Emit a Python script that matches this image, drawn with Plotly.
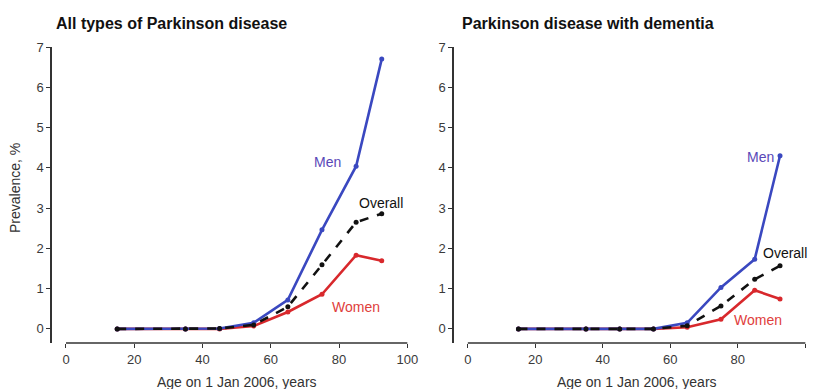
import plotly.graph_objects as go

ages = [15, 35, 45, 55, 65, 75, 85, 92.5]

all_men = [0.0, 0.0, 0.01, 0.15, 0.72, 2.46, 4.04, 6.7]
all_overall = [0.0, 0.0, 0.01, 0.1, 0.55, 1.59, 2.65, 2.86]
all_women = [0.0, 0.0, 0.0, 0.07, 0.42, 0.86, 1.83, 1.69]

dem_men = [0.0, 0.0, 0.0, 0.0, 0.15, 1.03, 1.73, 4.3]
dem_overall = [0.0, 0.0, 0.0, 0.0, 0.08, 0.57, 1.23, 1.57]
dem_women = [0.0, 0.0, 0.0, 0.0, 0.04, 0.24, 0.96, 0.74]

titles = ["All types of Parkinson disease", "Parkinson disease with dementia"]
x_title = "Age on 1 Jan 2006, years"
y_title = "Prevalence, %"
x_ticks = [0, 20, 40, 60, 80, 100]
y_ticks = [0, 1, 2, 3, 4, 5, 6, 7]

BLUE = "#3a48c0"
RED = "#d8282c"
BLACK = "#111111"
FONT = "Liberation Sans, Arial, sans-serif"

W, H = 814, 389
fig = go.Figure()

panels = [
    dict(men=all_men, overall=all_overall, women=all_women, xa="x", ya="y",
         xd=[52 / W, 408 / W], tx=54),
    dict(men=dem_men, overall=dem_overall, women=dem_women, xa="x2", ya="y2",
         xd=[454 / W, 806 / W], tx=460),
]
yd = [1 - 343 / H, 1 - 47 / H]

for p in panels:
    fig.add_trace(go.Scatter(x=ages, y=p["women"], mode="lines+markers", xaxis=p["xa"], yaxis=p["ya"],
                             line=dict(color=RED, width=2.6), marker=dict(size=5, color=RED),
                             showlegend=False))
    fig.add_trace(go.Scatter(x=ages, y=p["men"], mode="lines+markers", xaxis=p["xa"], yaxis=p["ya"],
                             line=dict(color=BLUE, width=2.6), marker=dict(size=5, color=BLUE),
                             showlegend=False))
    fig.add_trace(go.Scatter(x=ages, y=p["overall"], mode="lines+markers", xaxis=p["xa"], yaxis=p["ya"],
                             line=dict(color=BLACK, width=2.6, dash="dash"),
                             marker=dict(size=5, color=BLACK), showlegend=False))

axis_common = dict(showgrid=False, zeroline=False, ticks="outside", ticklen=4, tickwidth=1,
                   tickcolor="#333", automargin=False,
                   tickfont=dict(family=FONT, size=13, color="#3a3a3a"))

for i, p in enumerate(panels):
    sfx = "" if i == 0 else str(i + 1)
    fig.update_layout(**{
        "xaxis" + sfx: dict(domain=p["xd"], range=[-4.1, 100.2], tickvals=x_ticks,
                            showline=False, anchor="y" + sfx, **axis_common),
        "yaxis" + sfx: dict(domain=yd, range=[-0.35, 7.0], tickvals=y_ticks, showline=True,
                            linecolor="#333", linewidth=1.5, anchor="x" + sfx, **axis_common),
    })
    # x axis baseline from 0 to 100
    fig.add_shape(type="line", xref="x" + sfx, yref="paper", x0=0, x1=100, y0=yd[0], y1=yd[0],
                  line=dict(color="#333", width=1.5))
    # panel title
    fig.add_annotation(text="<b>" + titles[i] + "</b>", xref="paper", yref="paper",
                       x=p["tx"] / W, y=1 - 23 / H, xanchor="left", yanchor="middle",
                       showarrow=False, font=dict(family=FONT, size=16, color="#111"))
    # x title
    fig.add_annotation(text=x_title, xref="x" + sfx, yref="paper", x=50, y=1 - 382 / H,
                       xanchor="center", yanchor="middle", showarrow=False,
                       font=dict(family=FONT, size=14, color="#333"))

# y title (left only)
fig.add_annotation(text=y_title, xref="paper", yref="paper", x=15 / W, y=1 - 188 / H, textangle=-90,
                   xanchor="center", yanchor="middle", showarrow=False,
                   font=dict(family=FONT, size=14, color="#333"))

# series labels
labels = [
    ("x", "y", 76.6, 4.15, "Men", "#5a48b8"),
    ("x", "y", 92.4, 3.13, "Overall", "#111"),
    ("x", "y", 85, 0.55, "Women", "#e0403c"),
    ("x2", "y2", 86.8, 4.27, "Men", "#5a48b8"),
    ("x2", "y2", 94, 1.89, "Overall", "#111"),
    ("x2", "y2", 86, 0.22, "Women", "#e0403c"),
]
for xa, ya, x, y, t, c in labels:
    fig.add_annotation(text=t, xref=xa, yref=ya, x=x, y=y, showarrow=False,
                       xanchor="center", yanchor="middle",
                       font=dict(family=FONT, size=14, color=c))

fig.update_layout(width=W, height=H, margin=dict(l=0, r=0, t=0, b=0, autoexpand=False),
                  paper_bgcolor="white", plot_bgcolor="white")

fig.write_html("out.html")
